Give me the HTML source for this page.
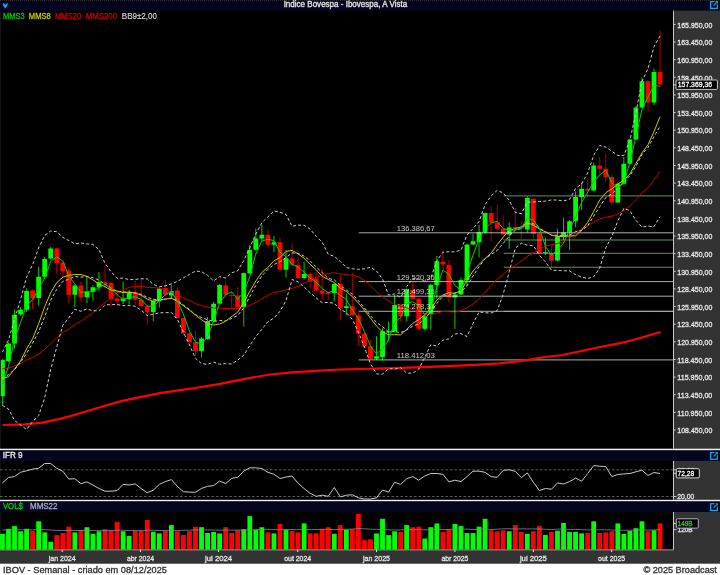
<!DOCTYPE html>
<html lang="pt-BR"><head><meta charset="utf-8"><title>IBOV - Semanal</title>
<style>html,body{margin:0;padding:0;background:#000;}svg{display:block;}</style></head>
<body>
<svg width="720" height="575" viewBox="0 0 720 575" font-family="'Liberation Sans', sans-serif" shape-rendering="auto">
<rect x="0" y="0" width="720" height="575" fill="#000"/>
<rect x="0" y="0" width="720" height="10.6" fill="#050520"/>
<rect x="673.5" y="10.6" width="46.5" height="553" fill="#333333"/>
<rect x="0" y="549.6" width="720" height="14.2" fill="#333333"/>
<rect x="0" y="563.7" width="720" height="11.3" fill="#fff"/>
<clipPath id="cm"><rect x="0" y="10.6" width="673.5" height="438.1"/></clipPath>
<g clip-path="url(#cm)">
<line x1="2.45" y1="359.0" x2="2.45" y2="405.0" stroke="#00d000" stroke-width="1"/>
<rect x="0.05" y="360.0" width="4.8" height="36.25" fill="#00ff00"/>
<line x1="8.48" y1="342.5" x2="8.48" y2="362.0" stroke="#00d000" stroke-width="1"/>
<rect x="6.08" y="343.5" width="4.8" height="17.50" fill="#00ff00"/>
<line x1="14.52" y1="309.75" x2="14.52" y2="348.5" stroke="#00d000" stroke-width="1"/>
<rect x="12.12" y="314.75" width="4.8" height="28.75" fill="#00ff00"/>
<line x1="20.55" y1="307.0" x2="20.55" y2="316.0" stroke="#00d000" stroke-width="1"/>
<rect x="18.15" y="309.75" width="4.8" height="4.50" fill="#00ff00"/>
<line x1="26.58" y1="288.5" x2="26.58" y2="312.0" stroke="#00d000" stroke-width="1"/>
<rect x="24.18" y="291.0" width="4.8" height="18.75" fill="#00ff00"/>
<line x1="32.62" y1="289.5" x2="32.62" y2="309.0" stroke="#b00000" stroke-width="1"/>
<rect x="30.22" y="290.5" width="4.8" height="8.00" fill="#ff0000"/>
<line x1="38.65" y1="266.75" x2="38.65" y2="305.5" stroke="#00d000" stroke-width="1"/>
<rect x="36.25" y="276.75" width="4.8" height="21.25" fill="#00ff00"/>
<line x1="44.68" y1="257.0" x2="44.68" y2="277.5" stroke="#00d000" stroke-width="1"/>
<rect x="42.28" y="259.0" width="4.8" height="17.75" fill="#00ff00"/>
<line x1="50.71" y1="247.0" x2="50.71" y2="260.0" stroke="#00d000" stroke-width="1"/>
<rect x="48.31" y="248.5" width="4.8" height="10.00" fill="#00ff00"/>
<line x1="56.75" y1="248.0" x2="56.75" y2="273.75" stroke="#b00000" stroke-width="1"/>
<rect x="54.35" y="248.4" width="4.8" height="14.80" fill="#ff0000"/>
<line x1="62.78" y1="262.0" x2="62.78" y2="277.5" stroke="#b00000" stroke-width="1"/>
<rect x="60.38" y="262.7" width="4.8" height="8.30" fill="#ff0000"/>
<line x1="68.81" y1="267.0" x2="68.81" y2="303.0" stroke="#b00000" stroke-width="1"/>
<rect x="66.41" y="270.5" width="4.8" height="24.25" fill="#ff0000"/>
<line x1="74.85" y1="284.5" x2="74.85" y2="307.0" stroke="#00d000" stroke-width="1"/>
<rect x="72.45" y="285.5" width="4.8" height="9.25" fill="#00ff00"/>
<line x1="80.88" y1="281.5" x2="80.88" y2="301.5" stroke="#b00000" stroke-width="1"/>
<rect x="78.48" y="285.5" width="4.8" height="11.75" fill="#ff0000"/>
<line x1="86.91" y1="276.0" x2="86.91" y2="303.0" stroke="#00d000" stroke-width="1"/>
<rect x="84.51" y="291.75" width="4.8" height="5.50" fill="#00ff00"/>
<line x1="92.95" y1="285.5" x2="92.95" y2="300.5" stroke="#00d000" stroke-width="1"/>
<rect x="90.55" y="287.25" width="4.8" height="4.50" fill="#00ff00"/>
<line x1="98.98" y1="272.25" x2="98.98" y2="291.0" stroke="#00d000" stroke-width="1"/>
<rect x="96.58" y="282.25" width="4.8" height="5.00" fill="#00ff00"/>
<line x1="105.01" y1="266.0" x2="105.01" y2="288.5" stroke="#b00000" stroke-width="1"/>
<rect x="102.61" y="282.25" width="4.8" height="1.75" fill="#ff0000"/>
<line x1="111.04" y1="281.5" x2="111.04" y2="307.0" stroke="#b00000" stroke-width="1"/>
<rect x="108.64" y="283.0" width="4.8" height="16.00" fill="#ff0000"/>
<line x1="117.08" y1="291.0" x2="117.08" y2="306.0" stroke="#b00000" stroke-width="1"/>
<rect x="114.68" y="298.5" width="4.8" height="2.50" fill="#ff0000"/>
<line x1="123.11" y1="281.5" x2="123.11" y2="304.0" stroke="#00d000" stroke-width="1"/>
<rect x="120.71" y="298.5" width="4.8" height="2.50" fill="#00ff00"/>
<line x1="129.14" y1="290.0" x2="129.14" y2="304.75" stroke="#00d000" stroke-width="1"/>
<rect x="126.74" y="292.25" width="4.8" height="6.75" fill="#00ff00"/>
<line x1="135.18" y1="280.5" x2="135.18" y2="304.75" stroke="#b00000" stroke-width="1"/>
<rect x="132.78" y="292.25" width="4.8" height="7.50" fill="#ff0000"/>
<line x1="141.21" y1="278.5" x2="141.21" y2="308.5" stroke="#b00000" stroke-width="1"/>
<rect x="138.81" y="299.75" width="4.8" height="6.25" fill="#ff0000"/>
<line x1="147.24" y1="304.75" x2="147.24" y2="324.75" stroke="#b00000" stroke-width="1"/>
<rect x="144.84" y="306.0" width="4.8" height="6.25" fill="#ff0000"/>
<line x1="153.28" y1="299.75" x2="153.28" y2="321.0" stroke="#00d000" stroke-width="1"/>
<rect x="150.88" y="301.0" width="4.8" height="11.25" fill="#00ff00"/>
<line x1="159.31" y1="287.5" x2="159.31" y2="307.5" stroke="#00d000" stroke-width="1"/>
<rect x="156.91" y="288.6" width="4.8" height="12.70" fill="#00ff00"/>
<line x1="165.34" y1="279.75" x2="165.34" y2="296.0" stroke="#b00000" stroke-width="1"/>
<rect x="162.94" y="288.0" width="4.8" height="6.75" fill="#ff0000"/>
<line x1="171.37" y1="284.75" x2="171.37" y2="298.5" stroke="#00d000" stroke-width="1"/>
<rect x="168.97" y="291.0" width="4.8" height="4.50" fill="#00ff00"/>
<line x1="177.41" y1="287.25" x2="177.41" y2="318.5" stroke="#b00000" stroke-width="1"/>
<rect x="175.01" y="290.5" width="4.8" height="27.50" fill="#ff0000"/>
<line x1="183.44" y1="317.5" x2="183.44" y2="334.75" stroke="#b00000" stroke-width="1"/>
<rect x="181.04" y="318.0" width="4.8" height="15.50" fill="#ff0000"/>
<line x1="189.47" y1="333.0" x2="189.47" y2="343.5" stroke="#b00000" stroke-width="1"/>
<rect x="187.07" y="333.5" width="4.8" height="8.75" fill="#ff0000"/>
<line x1="195.51" y1="331.0" x2="195.51" y2="356.0" stroke="#b00000" stroke-width="1"/>
<rect x="193.11" y="342.25" width="4.8" height="8.75" fill="#ff0000"/>
<line x1="201.54" y1="337.25" x2="201.54" y2="357.25" stroke="#00d000" stroke-width="1"/>
<rect x="199.14" y="338.5" width="4.8" height="12.50" fill="#00ff00"/>
<line x1="207.57" y1="317.0" x2="207.57" y2="339.75" stroke="#00d000" stroke-width="1"/>
<rect x="205.17" y="321.0" width="4.8" height="18.00" fill="#00ff00"/>
<line x1="213.61" y1="301.6" x2="213.61" y2="322.25" stroke="#00d000" stroke-width="1"/>
<rect x="211.21" y="303.7" width="4.8" height="17.30" fill="#00ff00"/>
<line x1="219.64" y1="284.0" x2="219.64" y2="304.75" stroke="#00d000" stroke-width="1"/>
<rect x="217.24" y="285.0" width="4.8" height="18.70" fill="#00ff00"/>
<line x1="225.67" y1="280.8" x2="225.67" y2="296.0" stroke="#b00000" stroke-width="1"/>
<rect x="223.27" y="285.4" width="4.8" height="9.30" fill="#ff0000"/>
<line x1="231.70" y1="291.9" x2="231.70" y2="309.3" stroke="#b00000" stroke-width="1"/>
<rect x="229.30" y="295.2" width="4.8" height="0.90" fill="#ff0000"/>
<line x1="237.74" y1="287.0" x2="237.74" y2="308.0" stroke="#b00000" stroke-width="1"/>
<rect x="235.34" y="295.4" width="4.8" height="11.80" fill="#ff0000"/>
<line x1="243.77" y1="272.5" x2="243.77" y2="326.7" stroke="#00d000" stroke-width="1"/>
<rect x="241.37" y="273.1" width="4.8" height="34.10" fill="#00ff00"/>
<line x1="249.80" y1="244.75" x2="249.80" y2="274.0" stroke="#00d000" stroke-width="1"/>
<rect x="247.40" y="249.75" width="4.8" height="23.55" fill="#00ff00"/>
<line x1="255.84" y1="228.5" x2="255.84" y2="250.5" stroke="#00d000" stroke-width="1"/>
<rect x="253.44" y="238.5" width="4.8" height="11.25" fill="#00ff00"/>
<line x1="261.87" y1="224.75" x2="261.87" y2="241.0" stroke="#00d000" stroke-width="1"/>
<rect x="259.47" y="234.75" width="4.8" height="3.75" fill="#00ff00"/>
<line x1="267.90" y1="229.75" x2="267.90" y2="247.0" stroke="#b00000" stroke-width="1"/>
<rect x="265.50" y="234.75" width="4.8" height="10.00" fill="#ff0000"/>
<line x1="273.94" y1="236.0" x2="273.94" y2="252.0" stroke="#00d000" stroke-width="1"/>
<rect x="271.54" y="242.25" width="4.8" height="2.50" fill="#00ff00"/>
<line x1="279.97" y1="237.25" x2="279.97" y2="272.0" stroke="#b00000" stroke-width="1"/>
<rect x="277.57" y="242.25" width="4.8" height="27.50" fill="#ff0000"/>
<line x1="286.00" y1="250.4" x2="286.00" y2="277.5" stroke="#00d000" stroke-width="1"/>
<rect x="283.60" y="258.5" width="4.8" height="11.25" fill="#00ff00"/>
<line x1="292.03" y1="243.5" x2="292.03" y2="266.0" stroke="#b00000" stroke-width="1"/>
<rect x="289.63" y="258.5" width="4.8" height="6.25" fill="#ff0000"/>
<line x1="298.07" y1="257.0" x2="298.07" y2="279.0" stroke="#b00000" stroke-width="1"/>
<rect x="295.67" y="264.75" width="4.8" height="13.25" fill="#ff0000"/>
<line x1="304.10" y1="262.0" x2="304.10" y2="279.75" stroke="#00d000" stroke-width="1"/>
<rect x="301.70" y="274.0" width="4.8" height="4.00" fill="#00ff00"/>
<line x1="310.13" y1="272.25" x2="310.13" y2="288.5" stroke="#b00000" stroke-width="1"/>
<rect x="307.73" y="274.0" width="4.8" height="7.50" fill="#ff0000"/>
<line x1="316.17" y1="271.3" x2="316.17" y2="291.3" stroke="#b00000" stroke-width="1"/>
<rect x="313.77" y="278.6" width="4.8" height="12.10" fill="#ff0000"/>
<line x1="322.20" y1="268.5" x2="322.20" y2="300.0" stroke="#b00000" stroke-width="1"/>
<rect x="319.80" y="290.5" width="4.8" height="3.00" fill="#ff0000"/>
<line x1="328.23" y1="291.0" x2="328.23" y2="300.0" stroke="#b00000" stroke-width="1"/>
<rect x="325.83" y="292.25" width="4.8" height="1.75" fill="#ff0000"/>
<line x1="334.26" y1="283.0" x2="334.26" y2="301.0" stroke="#00d000" stroke-width="1"/>
<rect x="331.87" y="284.0" width="4.8" height="9.00" fill="#00ff00"/>
<line x1="340.30" y1="274.75" x2="340.30" y2="320.5" stroke="#b00000" stroke-width="1"/>
<rect x="337.90" y="284.0" width="4.8" height="24.00" fill="#ff0000"/>
<line x1="346.33" y1="293.75" x2="346.33" y2="315.0" stroke="#00d000" stroke-width="1"/>
<rect x="343.93" y="306.25" width="4.8" height="1.75" fill="#00ff00"/>
<line x1="352.36" y1="272.5" x2="352.36" y2="316.25" stroke="#b00000" stroke-width="1"/>
<rect x="349.96" y="306.25" width="4.8" height="8.75" fill="#ff0000"/>
<line x1="358.40" y1="312.0" x2="358.40" y2="345.2" stroke="#b00000" stroke-width="1"/>
<rect x="356.00" y="315.5" width="4.8" height="18.10" fill="#ff0000"/>
<line x1="364.43" y1="332.5" x2="364.43" y2="347.0" stroke="#b00000" stroke-width="1"/>
<rect x="362.03" y="333.75" width="4.8" height="12.50" fill="#ff0000"/>
<line x1="370.46" y1="340.0" x2="370.46" y2="359.5" stroke="#b00000" stroke-width="1"/>
<rect x="368.06" y="346.25" width="4.8" height="12.50" fill="#ff0000"/>
<line x1="376.50" y1="336.25" x2="376.50" y2="360.0" stroke="#00d000" stroke-width="1"/>
<rect x="374.10" y="356.25" width="4.8" height="2.50" fill="#00ff00"/>
<line x1="382.53" y1="327.8" x2="382.53" y2="360.5" stroke="#00d000" stroke-width="1"/>
<rect x="380.13" y="331.3" width="4.8" height="25.70" fill="#00ff00"/>
<line x1="388.56" y1="321.25" x2="388.56" y2="341.25" stroke="#00d000" stroke-width="1"/>
<rect x="386.16" y="331.25" width="4.8" height="1.25" fill="#00ff00"/>
<line x1="394.60" y1="295.0" x2="394.60" y2="332.5" stroke="#00d000" stroke-width="1"/>
<rect x="392.20" y="305.0" width="4.8" height="26.25" fill="#00ff00"/>
<line x1="400.63" y1="303.75" x2="400.63" y2="321.25" stroke="#b00000" stroke-width="1"/>
<rect x="398.23" y="305.0" width="4.8" height="11.25" fill="#ff0000"/>
<line x1="406.66" y1="288.75" x2="406.66" y2="321.0" stroke="#00d000" stroke-width="1"/>
<rect x="404.26" y="290.0" width="4.8" height="26.25" fill="#00ff00"/>
<line x1="412.69" y1="281.25" x2="412.69" y2="299.5" stroke="#b00000" stroke-width="1"/>
<rect x="410.29" y="290.0" width="4.8" height="8.75" fill="#ff0000"/>
<line x1="418.73" y1="298.0" x2="418.73" y2="329.5" stroke="#b00000" stroke-width="1"/>
<rect x="416.33" y="298.75" width="4.8" height="30.00" fill="#ff0000"/>
<line x1="424.76" y1="313.75" x2="424.76" y2="330.5" stroke="#00d000" stroke-width="1"/>
<rect x="422.36" y="316.25" width="4.8" height="12.50" fill="#00ff00"/>
<line x1="430.79" y1="283.75" x2="430.79" y2="330.0" stroke="#00d000" stroke-width="1"/>
<rect x="428.39" y="284.8" width="4.8" height="29.70" fill="#00ff00"/>
<line x1="436.83" y1="256.0" x2="436.83" y2="298.75" stroke="#00d000" stroke-width="1"/>
<rect x="434.43" y="261.25" width="4.8" height="23.75" fill="#00ff00"/>
<line x1="442.86" y1="250.6" x2="442.86" y2="270.6" stroke="#b00000" stroke-width="1"/>
<rect x="440.46" y="261.8" width="4.8" height="2.50" fill="#ff0000"/>
<line x1="448.89" y1="260.0" x2="448.89" y2="302.5" stroke="#b00000" stroke-width="1"/>
<rect x="446.49" y="265.0" width="4.8" height="32.50" fill="#ff0000"/>
<line x1="454.93" y1="293.75" x2="454.93" y2="328.75" stroke="#00d000" stroke-width="1"/>
<rect x="452.53" y="294.5" width="4.8" height="3.00" fill="#00ff00"/>
<line x1="460.96" y1="277.5" x2="460.96" y2="295.0" stroke="#00d000" stroke-width="1"/>
<rect x="458.56" y="280.0" width="4.8" height="14.50" fill="#00ff00"/>
<line x1="466.99" y1="243.75" x2="466.99" y2="286.0" stroke="#00d000" stroke-width="1"/>
<rect x="464.59" y="244.5" width="4.8" height="35.50" fill="#00ff00"/>
<line x1="473.02" y1="233.75" x2="473.02" y2="245.0" stroke="#00d000" stroke-width="1"/>
<rect x="470.62" y="241.25" width="4.8" height="3.25" fill="#00ff00"/>
<line x1="479.06" y1="225.0" x2="479.06" y2="257.5" stroke="#00d000" stroke-width="1"/>
<rect x="476.66" y="232.25" width="4.8" height="10.00" fill="#00ff00"/>
<line x1="485.09" y1="212.5" x2="485.09" y2="233.75" stroke="#00d000" stroke-width="1"/>
<rect x="482.69" y="213.0" width="4.8" height="19.50" fill="#00ff00"/>
<line x1="491.12" y1="206.25" x2="491.12" y2="241.25" stroke="#b00000" stroke-width="1"/>
<rect x="488.72" y="213.0" width="4.8" height="9.50" fill="#ff0000"/>
<line x1="497.16" y1="205.0" x2="497.16" y2="230.0" stroke="#b00000" stroke-width="1"/>
<rect x="494.76" y="222.5" width="4.8" height="6.25" fill="#ff0000"/>
<line x1="503.19" y1="215.5" x2="503.19" y2="235.5" stroke="#b00000" stroke-width="1"/>
<rect x="500.79" y="228.75" width="4.8" height="5.75" fill="#ff0000"/>
<line x1="509.22" y1="222.5" x2="509.22" y2="248.75" stroke="#00d000" stroke-width="1"/>
<rect x="506.82" y="227.5" width="4.8" height="7.00" fill="#00ff00"/>
<line x1="515.25" y1="208.0" x2="515.25" y2="229.5" stroke="#b00000" stroke-width="1"/>
<rect x="512.86" y="227.0" width="4.8" height="1.00" fill="#ff0000"/>
<line x1="521.29" y1="221.0" x2="521.29" y2="238.75" stroke="#b00000" stroke-width="1"/>
<rect x="518.89" y="227.5" width="4.8" height="1.00" fill="#ff0000"/>
<line x1="527.32" y1="196.25" x2="527.32" y2="232.5" stroke="#00d000" stroke-width="1"/>
<rect x="524.92" y="198.0" width="4.8" height="31.50" fill="#00ff00"/>
<line x1="533.35" y1="198.0" x2="533.35" y2="238.75" stroke="#b00000" stroke-width="1"/>
<rect x="530.95" y="198.75" width="4.8" height="35.00" fill="#ff0000"/>
<line x1="539.39" y1="232.5" x2="539.39" y2="253.75" stroke="#b00000" stroke-width="1"/>
<rect x="536.99" y="233.75" width="4.8" height="19.25" fill="#ff0000"/>
<line x1="545.42" y1="237.5" x2="545.42" y2="255.0" stroke="#00d000" stroke-width="1"/>
<rect x="543.02" y="252.2" width="4.8" height="0.90" fill="#00ff00"/>
<line x1="551.45" y1="246.25" x2="551.45" y2="267.0" stroke="#b00000" stroke-width="1"/>
<rect x="549.05" y="253.0" width="4.8" height="7.50" fill="#ff0000"/>
<line x1="557.49" y1="228.75" x2="557.49" y2="261.25" stroke="#00d000" stroke-width="1"/>
<rect x="555.09" y="236.25" width="4.8" height="24.25" fill="#00ff00"/>
<line x1="563.52" y1="217.5" x2="563.52" y2="240.0" stroke="#00d000" stroke-width="1"/>
<rect x="561.12" y="232.5" width="4.8" height="3.75" fill="#00ff00"/>
<line x1="569.55" y1="220.0" x2="569.55" y2="250.0" stroke="#00d000" stroke-width="1"/>
<rect x="567.15" y="221.25" width="4.8" height="11.25" fill="#00ff00"/>
<line x1="575.58" y1="191.25" x2="575.58" y2="227.5" stroke="#00d000" stroke-width="1"/>
<rect x="573.18" y="197.0" width="4.8" height="24.25" fill="#00ff00"/>
<line x1="581.62" y1="182.5" x2="581.62" y2="210.0" stroke="#00d000" stroke-width="1"/>
<rect x="579.22" y="188.75" width="4.8" height="8.25" fill="#00ff00"/>
<line x1="587.65" y1="180.0" x2="587.65" y2="197.0" stroke="#b00000" stroke-width="1"/>
<rect x="585.25" y="188.75" width="4.8" height="1.75" fill="#ff0000"/>
<line x1="593.68" y1="162.5" x2="593.68" y2="191.25" stroke="#00d000" stroke-width="1"/>
<rect x="591.28" y="165.5" width="4.8" height="25.00" fill="#00ff00"/>
<line x1="599.72" y1="157.0" x2="599.72" y2="175.0" stroke="#b00000" stroke-width="1"/>
<rect x="597.32" y="165.5" width="4.8" height="3.25" fill="#ff0000"/>
<line x1="605.75" y1="153.75" x2="605.75" y2="182.0" stroke="#b00000" stroke-width="1"/>
<rect x="603.35" y="168.75" width="4.8" height="8.25" fill="#ff0000"/>
<line x1="611.78" y1="175.0" x2="611.78" y2="205.5" stroke="#b00000" stroke-width="1"/>
<rect x="609.38" y="177.0" width="4.8" height="25.50" fill="#ff0000"/>
<line x1="617.82" y1="182.5" x2="617.82" y2="203.0" stroke="#00d000" stroke-width="1"/>
<rect x="615.42" y="183.75" width="4.8" height="18.75" fill="#00ff00"/>
<line x1="623.85" y1="157.0" x2="623.85" y2="184.5" stroke="#00d000" stroke-width="1"/>
<rect x="621.45" y="163.75" width="4.8" height="20.00" fill="#00ff00"/>
<line x1="629.88" y1="138.75" x2="629.88" y2="164.5" stroke="#00d000" stroke-width="1"/>
<rect x="627.48" y="139.5" width="4.8" height="24.25" fill="#00ff00"/>
<line x1="635.91" y1="106.25" x2="635.91" y2="140.0" stroke="#00d000" stroke-width="1"/>
<rect x="633.51" y="107.5" width="4.8" height="32.00" fill="#00ff00"/>
<line x1="641.95" y1="77.5" x2="641.95" y2="108.0" stroke="#00d000" stroke-width="1"/>
<rect x="639.55" y="81.25" width="4.8" height="26.25" fill="#00ff00"/>
<line x1="647.98" y1="80.0" x2="647.98" y2="111.25" stroke="#b00000" stroke-width="1"/>
<rect x="645.58" y="81.25" width="4.8" height="21.25" fill="#ff0000"/>
<line x1="654.01" y1="68.75" x2="654.01" y2="105.0" stroke="#00d000" stroke-width="1"/>
<rect x="651.61" y="72.0" width="4.8" height="30.50" fill="#00ff00"/>
<line x1="660.05" y1="30.5" x2="660.05" y2="85.5" stroke="#b00000" stroke-width="1"/>
<rect x="657.65" y="72.0" width="4.8" height="12.50" fill="#ff0000"/>
<line x1="358.7" y1="232.8" x2="673.5" y2="232.8" stroke="#ffffff" stroke-opacity="0.68" stroke-width="1"/>
<line x1="358.7" y1="281.6" x2="673.5" y2="281.6" stroke="#ffffff" stroke-opacity="0.68" stroke-width="1"/>
<line x1="358.7" y1="296.2" x2="673.5" y2="296.2" stroke="#ffffff" stroke-opacity="0.68" stroke-width="1"/>
<line x1="358.7" y1="311.3" x2="673.5" y2="311.3" stroke="#ffffff" stroke-opacity="0.68" stroke-width="1"/>
<line x1="358.7" y1="359.9" x2="673.5" y2="359.9" stroke="#ffffff" stroke-opacity="0.68" stroke-width="1"/>
<line x1="503.7" y1="195.9" x2="673.5" y2="195.9" stroke="#80e080" stroke-opacity="0.68" stroke-width="1"/>
<line x1="503.7" y1="240.0" x2="673.5" y2="240.0" stroke="#80e080" stroke-opacity="0.68" stroke-width="1"/>
<line x1="503.7" y1="253.3" x2="673.5" y2="253.3" stroke="#80e080" stroke-opacity="0.68" stroke-width="1"/>
<line x1="503.7" y1="267.25" x2="673.5" y2="267.25" stroke="#80e080" stroke-opacity="0.68" stroke-width="1"/>
<line x1="503.7" y1="311.3" x2="673.5" y2="311.3" stroke="#80e080" stroke-opacity="0.68" stroke-width="1"/>
<g opacity="0.78"><text x="396.7" y="230.9" font-size="8" fill="#ffffff" text-anchor="start" font-weight="normal" textLength="38.1" lengthAdjust="spacingAndGlyphs">136.386,67</text></g>
<g opacity="0.78"><text x="396.7" y="279.70000000000005" font-size="8" fill="#ffffff" text-anchor="start" font-weight="normal" textLength="38.1" lengthAdjust="spacingAndGlyphs">129.520,36</text></g>
<g opacity="0.78"><text x="396.7" y="294.3" font-size="8" fill="#ffffff" text-anchor="start" font-weight="normal" textLength="38.1" lengthAdjust="spacingAndGlyphs">127.499,35</text></g>
<g opacity="0.78"><text x="396.7" y="309.40000000000003" font-size="8" fill="#ffffff" text-anchor="start" font-weight="normal" textLength="38.1" lengthAdjust="spacingAndGlyphs">125.278,34</text></g>
<g opacity="0.78"><text x="396.7" y="358.0" font-size="8" fill="#ffffff" text-anchor="start" font-weight="normal" textLength="38.1" lengthAdjust="spacingAndGlyphs">118.412,03</text></g>
<polyline points="2.5,425.0 25.0,424.3 42.5,422.6 60.0,418.9 75.0,414.7 100.0,407.2 120.0,401.4 140.0,397.1 160.0,393.1 180.0,390.1 195.0,388.0 220.0,383.8 245.0,378.8 270.0,374.5 295.0,372.2 320.0,370.6 340.0,369.5 385.0,368.3 430.0,366.9 475.0,364.9 500.0,363.3 525.0,360.4 545.0,357.0 562.5,355.0 580.0,351.2 600.0,347.0 620.0,343.2 635.0,339.5 650.0,335.0 660.5,332.0" fill="none" stroke="#ff0000" stroke-width="2.2" stroke-linejoin="round"/>
<polyline points="2.4,368.9 8.5,368.3 14.5,365.9 20.5,363.6 26.6,359.9 32.6,357.5 38.6,354.0 44.7,349.3 50.7,343.7 56.7,337.8 62.8,332.4 68.8,329.0 74.8,324.2 80.9,321.2 86.9,316.9 92.9,312.7 99.0,307.3 105.0,302.6 111.0,297.7 117.1,292.9 123.1,289.9 129.1,287.3 135.2,286.5 141.2,286.4 147.2,287.4 153.3,287.5 159.3,288.1 165.3,289.9 171.4,292.1 177.4,294.8 183.4,297.9 189.5,300.3 195.5,303.6 201.5,305.6 207.6,307.1 213.6,307.9 219.6,308.1 225.7,308.6 231.7,308.4 237.7,308.7 243.8,307.5 249.8,305.3 255.8,302.3 261.9,298.7 267.9,295.3 273.9,292.4 280.0,291.5 286.0,289.7 292.0,288.3 298.1,286.3 304.1,283.4 310.1,280.3 316.2,277.3 322.2,275.1 328.2,273.7 334.3,272.7 340.3,273.9 346.3,274.5 352.4,275.4 358.4,276.7 364.4,280.4 370.5,285.8 376.5,291.7 382.5,296.6 388.6,300.9 394.6,304.0 400.6,306.3 406.7,307.9 412.7,309.6 418.7,312.2 424.8,314.3 430.8,314.4 436.8,313.0 442.9,311.5 448.9,311.7 454.9,312.2 461.0,310.8 467.0,307.7 473.0,304.0 479.1,299.0 485.1,292.3 491.1,285.5 497.2,279.1 503.2,274.3 509.2,269.1 515.3,265.2 521.3,260.8 527.3,256.2 533.4,253.0 539.4,249.2 545.4,246.0 551.5,244.8 557.5,243.5 563.5,241.9 569.6,238.1 575.6,233.3 581.6,228.7 587.7,226.0 593.7,222.2 599.7,219.0 605.8,217.2 611.8,216.2 617.8,214.0 623.8,210.4 629.9,206.0 635.9,200.0 641.9,192.7 648.0,187.9 654.0,179.8 660.0,171.4" fill="none" stroke="#c80000" stroke-width="1" />
<polyline points="2.4,352.2 8.5,340.1 14.5,319.3 20.5,299.8 26.6,277.1 32.6,264.8 38.6,248.0 44.7,235.4 50.7,231.0 56.7,231.7 62.8,237.4 68.8,240.5 74.8,243.8 80.9,243.0 86.9,243.9 92.9,244.4 99.0,249.6 105.0,263.4 111.0,271.6 117.1,278.3 123.1,278.1 129.1,279.6 135.2,279.4 141.2,278.7 147.2,278.9 153.3,284.4 159.3,286.8 165.3,285.9 171.4,283.9 177.4,281.4 183.4,277.9 189.5,274.4 195.5,271.1 201.5,271.6 207.6,275.4 213.6,280.9 219.6,276.6 225.7,278.1 231.7,272.8 237.7,270.8 243.8,260.5 249.8,247.6 255.8,234.2 261.9,222.6 267.9,216.9 273.9,211.0 280.0,212.3 286.0,214.4 292.0,226.3 298.1,225.1 304.1,225.2 310.1,229.1 316.2,236.3 322.2,242.3 328.2,254.2 334.3,256.4 340.3,261.3 346.3,267.6 352.4,268.7 358.4,269.4 364.4,268.8 370.5,267.3 376.5,271.0 382.5,279.1 388.6,295.1 394.6,293.9 400.6,297.5 406.7,286.6 412.7,278.7 418.7,278.9 424.8,281.3 430.8,278.0 436.8,261.0 442.9,252.2 448.9,251.7 454.9,251.9 461.0,250.0 467.0,235.0 473.0,228.6 479.1,221.5 485.1,204.7 491.1,195.9 497.2,190.3 503.2,193.0 509.2,200.2 515.3,212.4 521.3,213.7 527.3,202.1 533.4,202.0 539.4,201.4 545.4,201.2 551.5,199.9 557.5,200.1 563.5,201.0 569.6,199.3 575.6,188.5 581.6,184.0 587.7,173.0 593.7,155.3 599.7,145.5 605.8,147.2 611.8,151.1 617.8,155.5 623.8,155.5 629.9,140.4 635.9,112.8 641.9,81.7 648.0,68.5 654.0,46.7 660.0,36.1" fill="none" stroke="#cccccc" stroke-width="1" stroke-dasharray="3 2.2"/>
<polyline points="2.4,378.8 8.5,374.6 14.5,369.8 20.5,362.4 26.6,353.3 32.6,343.2 38.6,331.9 44.7,316.6 50.7,300.2 56.7,289.4 62.8,281.4 68.8,279.2 74.8,276.5 80.9,277.2 86.9,276.4 92.9,277.6 99.0,280.2 105.0,284.1 111.0,288.1 117.1,291.4 123.1,291.8 129.1,292.6 135.2,292.9 141.2,294.4 147.2,297.2 153.3,299.3 159.3,299.8 165.3,299.3 171.4,298.2 177.4,300.4 183.4,305.0 189.5,309.7 195.5,314.7 201.5,317.6 207.6,319.8 213.6,321.5 219.6,320.4 225.7,320.9 231.7,318.4 237.7,315.5 243.8,307.8 249.8,296.5 255.8,285.4 261.9,275.8 267.9,269.3 273.9,264.5 280.0,261.8 286.0,257.6 292.0,252.9 298.1,253.4 304.1,256.1 310.1,260.9 316.2,267.1 322.2,272.5 328.2,278.3 334.3,279.9 340.3,285.4 346.3,290.0 352.4,294.1 358.4,300.7 364.4,307.9 370.5,315.5 376.5,322.5 382.5,326.6 388.6,331.9 394.6,331.5 400.6,332.6 406.7,329.9 412.7,326.0 418.7,324.0 424.8,319.3 430.8,311.4 436.8,303.6 442.9,296.1 448.9,295.3 454.9,292.9 461.0,291.8 467.0,285.8 473.0,276.0 479.1,266.7 485.1,258.7 491.1,254.4 497.2,250.5 503.2,243.5 509.2,236.0 515.3,230.2 521.3,228.5 527.3,223.7 533.4,223.8 539.4,228.3 545.4,231.6 551.5,235.1 557.5,235.3 563.5,235.9 569.6,235.1 575.6,231.6 581.6,230.6 587.7,225.8 593.7,216.1 599.7,206.8 605.8,197.5 611.8,193.8 617.8,188.3 623.8,181.9 629.9,175.6 635.9,166.5 641.9,154.4 648.0,147.4 654.0,136.6 660.0,126.4" fill="none" stroke="#cccccc" stroke-width="1" stroke-dasharray="3 2.2"/>
<polyline points="2.4,405.4 8.5,409.0 14.5,420.4 20.5,425.0 26.6,429.5 32.6,421.5 38.6,415.8 44.7,397.7 50.7,369.4 56.7,347.2 62.8,325.3 68.8,317.8 74.8,309.2 80.9,311.3 86.9,308.9 92.9,310.8 99.0,310.7 105.0,304.9 111.0,304.6 117.1,304.5 123.1,305.6 129.1,305.6 135.2,306.3 141.2,310.2 147.2,315.5 153.3,314.3 159.3,312.8 165.3,312.7 171.4,312.5 177.4,319.4 183.4,332.1 189.5,345.0 195.5,358.3 201.5,363.6 207.6,364.3 213.6,362.1 219.6,364.2 225.7,363.6 231.7,364.0 237.7,360.1 243.8,355.1 249.8,345.5 255.8,336.6 261.9,329.1 267.9,321.7 273.9,318.1 280.0,311.2 286.0,300.8 292.0,279.5 298.1,281.8 304.1,287.1 310.1,292.7 316.2,297.9 322.2,302.8 328.2,302.4 334.3,303.4 340.3,309.5 346.3,312.4 352.4,319.5 358.4,332.1 364.4,347.1 370.5,363.7 376.5,373.9 382.5,374.1 388.6,368.6 394.6,369.2 400.6,367.7 406.7,373.1 412.7,373.2 418.7,369.2 424.8,357.3 430.8,344.7 436.8,346.1 442.9,340.1 448.9,338.9 454.9,333.9 461.0,333.6 467.0,336.5 473.0,323.5 479.1,311.9 485.1,312.8 491.1,313.0 497.2,310.6 503.2,294.0 509.2,271.9 515.3,248.1 521.3,243.2 527.3,245.2 533.4,245.7 539.4,255.2 545.4,261.9 551.5,270.3 557.5,270.5 563.5,270.7 569.6,270.9 575.6,274.7 581.6,277.1 587.7,278.5 593.7,276.8 599.7,268.1 605.8,247.8 611.8,236.4 617.8,221.1 623.8,208.4 629.9,210.7 635.9,220.3 641.9,227.0 648.0,226.3 654.0,226.6 660.0,216.6" fill="none" stroke="#cccccc" stroke-width="1" stroke-dasharray="3 2.2"/>
<polyline points="2.4,378.4 8.5,376.7 14.5,369.0 20.5,361.1 26.6,348.8 32.6,338.8 38.6,323.8 44.7,306.7 50.7,292.7 56.7,282.7 62.8,277.2 68.8,275.3 74.8,274.6 80.9,274.5 86.9,276.4 92.9,279.9 99.0,284.1 105.0,286.7 111.0,290.2 117.1,291.0 123.1,292.6 129.1,292.0 135.2,293.0 141.2,295.3 147.2,299.1 153.3,301.2 159.3,299.9 165.3,299.1 171.4,298.2 177.4,301.4 183.4,305.6 189.5,310.2 195.5,315.0 201.5,319.7 207.6,323.8 213.6,324.9 219.6,324.1 225.7,321.2 231.7,316.5 237.7,312.1 243.8,302.4 249.8,291.3 255.8,281.0 261.9,272.4 267.9,267.3 273.9,260.8 280.0,257.5 286.0,251.4 292.0,250.4 298.1,253.9 304.1,258.3 310.1,264.2 316.2,269.9 322.2,276.3 328.2,279.4 334.3,282.6 340.3,288.0 346.3,291.5 352.4,296.6 358.4,303.1 364.4,310.1 370.5,318.2 376.5,326.0 382.5,331.9 388.6,334.8 394.6,334.7 400.6,334.8 406.7,329.4 412.7,323.4 418.7,319.7 424.8,314.7 430.8,308.9 436.8,300.1 442.9,295.0 448.9,292.7 454.9,293.3 461.0,290.9 467.0,280.4 473.0,271.0 479.1,264.4 485.1,258.4 491.1,253.2 497.2,244.6 503.2,237.1 509.2,230.5 515.3,228.5 521.3,226.9 527.3,222.6 533.4,225.2 539.4,229.0 545.4,231.9 551.5,235.2 557.5,236.3 563.5,236.8 569.6,235.9 575.6,235.8 581.6,230.2 587.7,222.4 593.7,211.5 599.7,200.1 605.8,192.7 611.8,188.9 617.8,184.2 623.8,180.1 629.9,173.9 635.9,163.5 641.9,153.0 648.0,144.7 654.0,131.6 660.0,116.8" fill="none" stroke="#cccc00" stroke-width="1" />
<polyline points="2.4,384.2 8.5,366.4 14.5,339.4 20.5,322.7 26.6,305.2 32.6,299.8 38.6,288.8 44.7,278.1 50.7,261.4 56.7,256.9 62.8,260.9 68.8,276.3 74.8,283.8 80.9,292.5 86.9,291.5 92.9,292.1 99.0,287.1 105.0,284.5 111.0,288.4 117.1,294.7 123.1,299.5 129.1,297.2 135.2,296.8 141.2,299.3 147.2,306.0 153.3,306.4 159.3,300.6 165.3,294.8 171.4,291.4 177.4,301.2 183.4,314.2 189.5,331.2 195.5,342.2 201.5,343.9 207.6,336.8 213.6,321.1 219.6,303.2 225.7,294.5 231.7,291.9 237.7,299.3 243.8,292.1 249.8,276.7 255.8,253.8 261.9,241.0 267.9,239.3 273.9,240.6 280.0,252.2 286.0,256.8 292.0,264.3 298.1,267.1 304.1,272.2 310.1,277.8 316.2,282.1 322.2,288.6 328.2,292.7 334.3,290.5 340.3,295.3 346.3,299.4 352.4,309.8 358.4,318.3 364.4,331.6 370.5,346.2 376.5,353.8 382.5,348.8 388.6,339.6 394.6,322.5 400.6,317.5 406.7,303.8 412.7,301.7 418.7,305.8 424.8,314.6 430.8,309.9 436.8,287.4 442.9,270.1 448.9,274.3 454.9,285.4 461.0,290.7 467.0,273.0 473.0,255.2 479.1,239.3 485.1,228.8 491.1,222.6 497.2,221.4 503.2,228.6 509.2,230.2 515.3,230.0 521.3,228.0 527.3,218.2 533.4,220.1 539.4,228.2 545.4,246.3 551.5,255.2 557.5,249.7 563.5,243.1 569.6,230.0 575.6,216.9 581.6,202.3 587.7,192.1 593.7,181.6 599.7,174.9 605.8,170.4 611.8,182.8 617.8,187.8 623.8,183.3 629.9,162.3 635.9,136.9 641.9,109.4 648.0,97.1 654.0,85.2 660.0,86.3" fill="none" stroke="#00d000" stroke-width="1" />
</g>
<line x1="673.5" y1="10.6" x2="673.5" y2="448.7" stroke="#c8c8c8" stroke-width="1"/>
<line x1="673.5" y1="460.9" x2="673.5" y2="499.8" stroke="#c8c8c8" stroke-width="1"/>
<line x1="673.5" y1="512" x2="673.5" y2="549.9" stroke="#c8c8c8" stroke-width="1"/>
<line x1="673.5" y1="24.4" x2="675.7" y2="24.4" stroke="#c8c8c8" stroke-width="1"/>
<text x="677.3" y="27.6" font-size="7.8" fill="#e8e8e8" text-anchor="start" font-weight="normal" textLength="35" lengthAdjust="spacingAndGlyphs" stroke="#e8e8e8" stroke-width="0.3">165.950,00</text>
<line x1="673.5" y1="42.0" x2="675.7" y2="42.0" stroke="#c8c8c8" stroke-width="1"/>
<text x="677.3" y="45.2" font-size="7.8" fill="#e8e8e8" text-anchor="start" font-weight="normal" textLength="35" lengthAdjust="spacingAndGlyphs" stroke="#e8e8e8" stroke-width="0.3">163.450,00</text>
<line x1="673.5" y1="59.7" x2="675.7" y2="59.7" stroke="#c8c8c8" stroke-width="1"/>
<text x="677.3" y="62.9" font-size="7.8" fill="#e8e8e8" text-anchor="start" font-weight="normal" textLength="35" lengthAdjust="spacingAndGlyphs" stroke="#e8e8e8" stroke-width="0.3">160.950,00</text>
<line x1="673.5" y1="77.3" x2="675.7" y2="77.3" stroke="#c8c8c8" stroke-width="1"/>
<text x="677.3" y="80.5" font-size="7.8" fill="#e8e8e8" text-anchor="start" font-weight="normal" textLength="35" lengthAdjust="spacingAndGlyphs" stroke="#e8e8e8" stroke-width="0.3">158.450,00</text>
<line x1="673.5" y1="94.9" x2="675.7" y2="94.9" stroke="#c8c8c8" stroke-width="1"/>
<text x="677.3" y="98.1" font-size="7.8" fill="#e8e8e8" text-anchor="start" font-weight="normal" textLength="35" lengthAdjust="spacingAndGlyphs" stroke="#e8e8e8" stroke-width="0.3">155.950,00</text>
<line x1="673.5" y1="112.6" x2="675.7" y2="112.6" stroke="#c8c8c8" stroke-width="1"/>
<text x="677.3" y="115.8" font-size="7.8" fill="#e8e8e8" text-anchor="start" font-weight="normal" textLength="35" lengthAdjust="spacingAndGlyphs" stroke="#e8e8e8" stroke-width="0.3">153.450,00</text>
<line x1="673.5" y1="130.2" x2="675.7" y2="130.2" stroke="#c8c8c8" stroke-width="1"/>
<text x="677.3" y="133.4" font-size="7.8" fill="#e8e8e8" text-anchor="start" font-weight="normal" textLength="35" lengthAdjust="spacingAndGlyphs" stroke="#e8e8e8" stroke-width="0.3">150.950,00</text>
<line x1="673.5" y1="147.8" x2="675.7" y2="147.8" stroke="#c8c8c8" stroke-width="1"/>
<text x="677.3" y="151.0" font-size="7.8" fill="#e8e8e8" text-anchor="start" font-weight="normal" textLength="35" lengthAdjust="spacingAndGlyphs" stroke="#e8e8e8" stroke-width="0.3">148.450,00</text>
<line x1="673.5" y1="165.5" x2="675.7" y2="165.5" stroke="#c8c8c8" stroke-width="1"/>
<text x="677.3" y="168.7" font-size="7.8" fill="#e8e8e8" text-anchor="start" font-weight="normal" textLength="35" lengthAdjust="spacingAndGlyphs" stroke="#e8e8e8" stroke-width="0.3">145.950,00</text>
<line x1="673.5" y1="183.1" x2="675.7" y2="183.1" stroke="#c8c8c8" stroke-width="1"/>
<text x="677.3" y="186.3" font-size="7.8" fill="#e8e8e8" text-anchor="start" font-weight="normal" textLength="35" lengthAdjust="spacingAndGlyphs" stroke="#e8e8e8" stroke-width="0.3">143.450,00</text>
<line x1="673.5" y1="200.8" x2="675.7" y2="200.8" stroke="#c8c8c8" stroke-width="1"/>
<text x="677.3" y="204.0" font-size="7.8" fill="#e8e8e8" text-anchor="start" font-weight="normal" textLength="35" lengthAdjust="spacingAndGlyphs" stroke="#e8e8e8" stroke-width="0.3">140.950,00</text>
<line x1="673.5" y1="218.4" x2="675.7" y2="218.4" stroke="#c8c8c8" stroke-width="1"/>
<text x="677.3" y="221.6" font-size="7.8" fill="#e8e8e8" text-anchor="start" font-weight="normal" textLength="35" lengthAdjust="spacingAndGlyphs" stroke="#e8e8e8" stroke-width="0.3">138.450,00</text>
<line x1="673.5" y1="236.0" x2="675.7" y2="236.0" stroke="#c8c8c8" stroke-width="1"/>
<text x="677.3" y="239.2" font-size="7.8" fill="#e8e8e8" text-anchor="start" font-weight="normal" textLength="35" lengthAdjust="spacingAndGlyphs" stroke="#e8e8e8" stroke-width="0.3">135.950,00</text>
<line x1="673.5" y1="253.7" x2="675.7" y2="253.7" stroke="#c8c8c8" stroke-width="1"/>
<text x="677.3" y="256.9" font-size="7.8" fill="#e8e8e8" text-anchor="start" font-weight="normal" textLength="35" lengthAdjust="spacingAndGlyphs" stroke="#e8e8e8" stroke-width="0.3">133.450,00</text>
<line x1="673.5" y1="271.3" x2="675.7" y2="271.3" stroke="#c8c8c8" stroke-width="1"/>
<text x="677.3" y="274.5" font-size="7.8" fill="#e8e8e8" text-anchor="start" font-weight="normal" textLength="35" lengthAdjust="spacingAndGlyphs" stroke="#e8e8e8" stroke-width="0.3">130.950,00</text>
<line x1="673.5" y1="288.9" x2="675.7" y2="288.9" stroke="#c8c8c8" stroke-width="1"/>
<text x="677.3" y="292.1" font-size="7.8" fill="#e8e8e8" text-anchor="start" font-weight="normal" textLength="35" lengthAdjust="spacingAndGlyphs" stroke="#e8e8e8" stroke-width="0.3">128.450,00</text>
<line x1="673.5" y1="306.6" x2="675.7" y2="306.6" stroke="#c8c8c8" stroke-width="1"/>
<text x="677.3" y="309.8" font-size="7.8" fill="#e8e8e8" text-anchor="start" font-weight="normal" textLength="35" lengthAdjust="spacingAndGlyphs" stroke="#e8e8e8" stroke-width="0.3">125.950,00</text>
<line x1="673.5" y1="324.2" x2="675.7" y2="324.2" stroke="#c8c8c8" stroke-width="1"/>
<text x="677.3" y="327.4" font-size="7.8" fill="#e8e8e8" text-anchor="start" font-weight="normal" textLength="35" lengthAdjust="spacingAndGlyphs" stroke="#e8e8e8" stroke-width="0.3">123.450,00</text>
<line x1="673.5" y1="341.8" x2="675.7" y2="341.8" stroke="#c8c8c8" stroke-width="1"/>
<text x="677.3" y="345.0" font-size="7.8" fill="#e8e8e8" text-anchor="start" font-weight="normal" textLength="35" lengthAdjust="spacingAndGlyphs" stroke="#e8e8e8" stroke-width="0.3">120.950,00</text>
<line x1="673.5" y1="359.5" x2="675.7" y2="359.5" stroke="#c8c8c8" stroke-width="1"/>
<text x="677.3" y="362.7" font-size="7.8" fill="#e8e8e8" text-anchor="start" font-weight="normal" textLength="35" lengthAdjust="spacingAndGlyphs" stroke="#e8e8e8" stroke-width="0.3">118.450,00</text>
<line x1="673.5" y1="377.1" x2="675.7" y2="377.1" stroke="#c8c8c8" stroke-width="1"/>
<text x="677.3" y="380.3" font-size="7.8" fill="#e8e8e8" text-anchor="start" font-weight="normal" textLength="35" lengthAdjust="spacingAndGlyphs" stroke="#e8e8e8" stroke-width="0.3">115.950,00</text>
<line x1="673.5" y1="394.7" x2="675.7" y2="394.7" stroke="#c8c8c8" stroke-width="1"/>
<text x="677.3" y="397.9" font-size="7.8" fill="#e8e8e8" text-anchor="start" font-weight="normal" textLength="35" lengthAdjust="spacingAndGlyphs" stroke="#e8e8e8" stroke-width="0.3">113.450,00</text>
<line x1="673.5" y1="412.4" x2="675.7" y2="412.4" stroke="#c8c8c8" stroke-width="1"/>
<text x="677.3" y="415.6" font-size="7.8" fill="#e8e8e8" text-anchor="start" font-weight="normal" textLength="35" lengthAdjust="spacingAndGlyphs" stroke="#e8e8e8" stroke-width="0.3">110.950,00</text>
<line x1="673.5" y1="430.0" x2="675.7" y2="430.0" stroke="#c8c8c8" stroke-width="1"/>
<text x="677.3" y="433.2" font-size="7.8" fill="#e8e8e8" text-anchor="start" font-weight="normal" textLength="35" lengthAdjust="spacingAndGlyphs" stroke="#e8e8e8" stroke-width="0.3">108.450,00</text>
<line x1="673.5" y1="84.9" x2="676" y2="84.9" stroke="#d0d0d0" stroke-width="1"/>
<rect x="676" y="80" width="41.4" height="9.4" rx="1" fill="#000" stroke="#c8c8c8" stroke-width="1"/>
<text x="677.8" y="87.3" font-size="7.8" fill="#fff" text-anchor="start" font-weight="normal" textLength="34.2" lengthAdjust="spacingAndGlyphs" stroke="#fff" stroke-width="0.3">157.369,36</text>
<text x="345.4" y="7.3" font-size="8.2" fill="#e8e8e8" text-anchor="middle" font-weight="normal" textLength="123.5" lengthAdjust="spacingAndGlyphs" stroke="#e8e8e8" stroke-width="0.3">Índice Bovespa - Ibovespa, A Vista</text>
<path d="M3 2.5 L5.25 4.8 L7.5 2.5 L7.5 5.6 L5.25 8.5 L3 5.6 Z" fill="#1e9cff"/>
<line x1="0" y1="0.3" x2="720" y2="0.3" stroke="#4a4a3a" stroke-width="0.7" stroke-dasharray="1 1"/>
<rect x="0" y="10.6" width="0.8" height="539" fill="#181818"/>
<g><rect x="710.65" y="1.65" width="6.70" height="6.70" fill="#000" stroke="#00a8ff" stroke-width="1.3"/><rect x="714.40" y="0.80" width="3.9" height="3.6" fill="#000"/><path d="M713.60 5.60 L716.60 2.50" stroke="#00a8ff" stroke-width="1.2" fill="none"/><path d="M715.00 1.10 L717.90 1.10 L717.90 4.00 Z" fill="#00a8ff"/></g>
<text x="3" y="18.9" font-size="8.6" fill="#00c800" text-anchor="start" font-weight="normal" textLength="21.6" lengthAdjust="spacingAndGlyphs" stroke="#00c800" stroke-width="0.3">MMS3</text>
<text x="28.8" y="18.9" font-size="8.6" fill="#c8c800" text-anchor="start" font-weight="normal" textLength="22" lengthAdjust="spacingAndGlyphs" stroke="#c8c800" stroke-width="0.3">MMS8</text>
<text x="55" y="18.9" font-size="8.6" fill="#c80000" text-anchor="start" font-weight="normal" textLength="26.3" lengthAdjust="spacingAndGlyphs" stroke="#c80000" stroke-width="0.3">MMS20</text>
<text x="85.8" y="18.9" font-size="8.6" fill="#c80000" text-anchor="start" font-weight="normal" textLength="31.2" lengthAdjust="spacingAndGlyphs" stroke="#c80000" stroke-width="0.3">MMS200</text>
<text x="121.8" y="18.9" font-size="8.6" fill="#d8d8d8" text-anchor="start" font-weight="normal" textLength="35.2" lengthAdjust="spacingAndGlyphs" stroke="#d8d8d8" stroke-width="0.15">BB9±2,00</text>
<rect x="0" y="448.7" width="720" height="1.7" fill="#f0f0f0"/>
<rect x="0" y="450.4" width="720" height="10.5" fill="#050520"/>
<text x="2.7" y="458" font-size="8.6" fill="#f0f0f0" text-anchor="start" font-weight="normal" textLength="19.8" lengthAdjust="spacingAndGlyphs" stroke="#f0f0f0" stroke-width="0.3">IFR 9</text>
<line x1="0" y1="469.8" x2="673.5" y2="469.8" stroke="#5c5c5c" stroke-width="1" stroke-dasharray="2.5 2"/>
<line x1="673.5" y1="469.8" x2="676.5" y2="469.8" stroke="#c8c8c8" stroke-width="1"/>
<line x1="0" y1="496.5" x2="673.5" y2="496.5" stroke="#5c5c5c" stroke-width="1" stroke-dasharray="2.5 2"/>
<line x1="673.5" y1="496.5" x2="676.5" y2="496.5" stroke="#c8c8c8" stroke-width="1"/>
<text x="677.2" y="472.7" font-size="7.8" fill="#e8e8e8" text-anchor="start" font-weight="normal" textLength="17" lengthAdjust="spacingAndGlyphs" stroke="#e8e8e8" stroke-width="0.3">80,00</text>
<text x="677.2" y="499.4" font-size="7.8" fill="#e8e8e8" text-anchor="start" font-weight="normal" textLength="17" lengthAdjust="spacingAndGlyphs" stroke="#e8e8e8" stroke-width="0.3">20,00</text>
<polyline points="2.4,482.9 8.5,477.5 14.5,476.6 20.5,472.3 26.6,470.8 32.6,469.1 38.6,468.3 44.7,463.5 50.7,463.5 56.7,468.3 62.8,471.2 68.8,479.1 74.8,478.7 80.9,483.7 86.9,481.9 92.9,485.0 99.0,488.5 105.0,491.2 111.0,491.2 117.1,490.6 123.1,484.4 129.1,485.0 135.2,483.9 141.2,488.5 147.2,492.7 153.3,490.2 159.3,484.4 165.3,481.6 171.4,479.6 177.4,486.4 183.4,491.7 189.5,492.1 195.5,492.3 201.5,488.4 207.6,486.3 213.6,485.6 219.6,481.1 225.7,483.5 231.7,478.4 237.7,477.3 243.8,471.0 249.8,467.8 255.8,467.8 261.9,468.5 267.9,472.4 273.9,474.2 280.0,478.6 286.0,477.0 292.0,476.0 298.1,483.3 304.1,488.5 310.1,493.3 316.2,496.3 322.2,495.2 328.2,496.3 334.3,487.5 340.3,496.9 346.3,495.2 352.4,494.8 358.4,497.9 364.4,499.0 370.5,499.0 376.5,497.9 382.5,490.0 388.6,492.1 394.6,482.3 400.6,484.4 406.7,478.7 412.7,476.6 418.7,480.2 424.8,476.0 430.8,473.5 436.8,473.5 442.9,474.3 448.9,481.9 454.9,480.2 461.0,481.6 467.0,476.6 473.0,471.2 479.1,471.2 485.1,472.3 491.1,476.6 497.2,477.3 503.2,470.4 509.2,469.7 515.3,471.4 521.3,477.7 527.3,472.9 533.4,482.3 539.4,490.6 545.4,488.5 551.5,489.2 557.5,482.9 563.5,484.0 569.6,481.6 575.6,478.1 581.6,481.2 587.7,473.5 593.7,465.6 599.7,466.2 605.8,466.6 611.8,476.6 617.8,474.5 623.8,473.9 629.9,473.5 635.9,471.8 641.9,470.2 648.0,475.4 654.0,472.5 660.0,473.5" fill="none" stroke="#c8c8c8" stroke-width="1" />
<line x1="673.5" y1="473.3" x2="676" y2="473.3" stroke="#d0d0d0" stroke-width="1"/>
<rect x="676.3" y="468.7" width="23" height="9.2" rx="1" fill="#000" stroke="#d8d8d8" stroke-width="1"/>
<text x="677.6" y="476.2" font-size="7.8" fill="#fff" text-anchor="start" font-weight="normal" textLength="16.6" lengthAdjust="spacingAndGlyphs" stroke="#fff" stroke-width="0.3">72,28</text>
<g><rect x="710.65" y="452.55" width="6.70" height="6.70" fill="#000" stroke="#00a8ff" stroke-width="1.3"/><rect x="714.40" y="451.70" width="3.9" height="3.6" fill="#000"/><path d="M713.60 456.50 L716.60 453.40" stroke="#00a8ff" stroke-width="1.2" fill="none"/><path d="M715.00 452.00 L717.90 452.00 L717.90 454.90 Z" fill="#00a8ff"/></g>
<rect x="0" y="499.8" width="720" height="1.7" fill="#f0f0f0"/>
<rect x="0" y="501.4" width="720" height="10.6" fill="#050520"/>
<text x="2.9" y="509.2" font-size="8.6" fill="#00d000" text-anchor="start" font-weight="normal" textLength="20" lengthAdjust="spacingAndGlyphs" stroke="#00d000" stroke-width="0.3">VOL$</text>
<text x="30" y="509.2" font-size="8.6" fill="#a8a8cc" text-anchor="start" font-weight="normal" textLength="27.5" lengthAdjust="spacingAndGlyphs" stroke="#a8a8cc" stroke-width="0.3">MMS22</text>
<g><rect x="710.65" y="503.75" width="6.70" height="6.70" fill="#000" stroke="#00a8ff" stroke-width="1.3"/><rect x="714.40" y="502.90" width="3.9" height="3.6" fill="#000"/><path d="M713.60 507.70 L716.60 504.60" stroke="#00a8ff" stroke-width="1.2" fill="none"/><path d="M715.00 503.20 L717.90 503.20 L717.90 506.10 Z" fill="#00a8ff"/></g>
<rect x="0.05" y="533.8" width="4.8" height="15.80" fill="#00ff00"/>
<rect x="6.08" y="528.8" width="4.8" height="20.80" fill="#00ff00"/>
<rect x="12.12" y="526.1" width="4.8" height="23.50" fill="#00ff00"/>
<rect x="18.15" y="531.3" width="4.8" height="18.30" fill="#00ff00"/>
<rect x="24.18" y="528.8" width="4.8" height="20.80" fill="#00ff00"/>
<rect x="30.22" y="530.9" width="4.8" height="18.70" fill="#ff0000"/>
<rect x="36.25" y="521.3" width="4.8" height="28.30" fill="#00ff00"/>
<rect x="42.28" y="532.4" width="4.8" height="17.20" fill="#00ff00"/>
<rect x="48.31" y="541.8" width="4.8" height="7.80" fill="#00ff00"/>
<rect x="54.35" y="535.1" width="4.8" height="14.50" fill="#ff0000"/>
<rect x="60.38" y="533.0" width="4.8" height="16.60" fill="#ff0000"/>
<rect x="66.41" y="526.7" width="4.8" height="22.90" fill="#ff0000"/>
<rect x="72.45" y="532.4" width="4.8" height="17.20" fill="#00ff00"/>
<rect x="78.48" y="530.3" width="4.8" height="19.30" fill="#ff0000"/>
<rect x="84.51" y="527.2" width="4.8" height="22.40" fill="#00ff00"/>
<rect x="90.55" y="533.8" width="4.8" height="15.80" fill="#00ff00"/>
<rect x="96.58" y="531.3" width="4.8" height="18.30" fill="#00ff00"/>
<rect x="102.61" y="529.2" width="4.8" height="20.40" fill="#ff0000"/>
<rect x="108.64" y="530.3" width="4.8" height="19.30" fill="#ff0000"/>
<rect x="114.68" y="521.9" width="4.8" height="27.70" fill="#ff0000"/>
<rect x="120.71" y="531.3" width="4.8" height="18.30" fill="#00ff00"/>
<rect x="126.74" y="535.9" width="4.8" height="13.70" fill="#00ff00"/>
<rect x="132.78" y="530.9" width="4.8" height="18.70" fill="#ff0000"/>
<rect x="138.81" y="530.9" width="4.8" height="18.70" fill="#ff0000"/>
<rect x="144.84" y="519.9" width="4.8" height="29.70" fill="#ff0000"/>
<rect x="150.88" y="531.7" width="4.8" height="17.90" fill="#00ff00"/>
<rect x="156.91" y="533.4" width="4.8" height="16.20" fill="#00ff00"/>
<rect x="162.94" y="530.9" width="4.8" height="18.70" fill="#ff0000"/>
<rect x="168.97" y="525.1" width="4.8" height="24.50" fill="#00ff00"/>
<rect x="175.01" y="531.3" width="4.8" height="18.30" fill="#ff0000"/>
<rect x="181.04" y="534.9" width="4.8" height="14.70" fill="#ff0000"/>
<rect x="187.07" y="531.3" width="4.8" height="18.30" fill="#ff0000"/>
<rect x="193.11" y="526.7" width="4.8" height="22.90" fill="#ff0000"/>
<rect x="199.14" y="527.2" width="4.8" height="22.40" fill="#00ff00"/>
<rect x="205.17" y="533.0" width="4.8" height="16.60" fill="#00ff00"/>
<rect x="211.21" y="532.0" width="4.8" height="17.60" fill="#00ff00"/>
<rect x="217.24" y="533.4" width="4.8" height="16.20" fill="#00ff00"/>
<rect x="223.27" y="527.2" width="4.8" height="22.40" fill="#ff0000"/>
<rect x="229.30" y="533.0" width="4.8" height="16.60" fill="#ff0000"/>
<rect x="235.34" y="530.3" width="4.8" height="19.30" fill="#ff0000"/>
<rect x="241.37" y="529.2" width="4.8" height="20.40" fill="#00ff00"/>
<rect x="247.40" y="516.1" width="4.8" height="33.50" fill="#00ff00"/>
<rect x="253.44" y="529.9" width="4.8" height="19.70" fill="#00ff00"/>
<rect x="259.47" y="527.2" width="4.8" height="22.40" fill="#00ff00"/>
<rect x="265.50" y="532.4" width="4.8" height="17.20" fill="#ff0000"/>
<rect x="271.54" y="533.4" width="4.8" height="16.20" fill="#00ff00"/>
<rect x="277.57" y="524.0" width="4.8" height="25.60" fill="#ff0000"/>
<rect x="283.60" y="529.9" width="4.8" height="19.70" fill="#00ff00"/>
<rect x="289.63" y="530.9" width="4.8" height="18.70" fill="#ff0000"/>
<rect x="295.67" y="532.4" width="4.8" height="17.20" fill="#ff0000"/>
<rect x="301.70" y="523.4" width="4.8" height="26.20" fill="#00ff00"/>
<rect x="307.73" y="533.4" width="4.8" height="16.20" fill="#ff0000"/>
<rect x="313.77" y="533.4" width="4.8" height="16.20" fill="#ff0000"/>
<rect x="319.80" y="528.8" width="4.8" height="20.80" fill="#ff0000"/>
<rect x="325.83" y="527.2" width="4.8" height="22.40" fill="#ff0000"/>
<rect x="331.87" y="533.8" width="4.8" height="15.80" fill="#00ff00"/>
<rect x="337.90" y="525.1" width="4.8" height="24.50" fill="#ff0000"/>
<rect x="343.93" y="529.7" width="4.8" height="19.90" fill="#00ff00"/>
<rect x="349.96" y="529.2" width="4.8" height="20.40" fill="#ff0000"/>
<rect x="356.00" y="514.0" width="4.8" height="35.60" fill="#ff0000"/>
<rect x="362.03" y="540.1" width="4.8" height="9.50" fill="#ff0000"/>
<rect x="368.06" y="539.3" width="4.8" height="10.30" fill="#ff0000"/>
<rect x="374.10" y="533.4" width="4.8" height="16.20" fill="#00ff00"/>
<rect x="380.13" y="518.8" width="4.8" height="30.80" fill="#00ff00"/>
<rect x="386.16" y="535.1" width="4.8" height="14.50" fill="#00ff00"/>
<rect x="392.20" y="531.3" width="4.8" height="18.30" fill="#00ff00"/>
<rect x="398.23" y="532.0" width="4.8" height="17.60" fill="#ff0000"/>
<rect x="404.26" y="525.1" width="4.8" height="24.50" fill="#00ff00"/>
<rect x="410.29" y="527.2" width="4.8" height="22.40" fill="#ff0000"/>
<rect x="416.33" y="526.7" width="4.8" height="22.90" fill="#ff0000"/>
<rect x="422.36" y="538.6" width="4.8" height="11.00" fill="#00ff00"/>
<rect x="428.39" y="527.2" width="4.8" height="22.40" fill="#00ff00"/>
<rect x="434.43" y="523.4" width="4.8" height="26.20" fill="#00ff00"/>
<rect x="440.46" y="532.0" width="4.8" height="17.60" fill="#ff0000"/>
<rect x="446.49" y="529.2" width="4.8" height="20.40" fill="#ff0000"/>
<rect x="452.53" y="524.0" width="4.8" height="25.60" fill="#00ff00"/>
<rect x="458.56" y="526.1" width="4.8" height="23.50" fill="#00ff00"/>
<rect x="464.59" y="533.0" width="4.8" height="16.60" fill="#00ff00"/>
<rect x="470.62" y="533.0" width="4.8" height="16.60" fill="#00ff00"/>
<rect x="476.66" y="526.7" width="4.8" height="22.90" fill="#00ff00"/>
<rect x="482.69" y="518.8" width="4.8" height="30.80" fill="#00ff00"/>
<rect x="488.72" y="530.3" width="4.8" height="19.30" fill="#ff0000"/>
<rect x="494.76" y="531.3" width="4.8" height="18.30" fill="#ff0000"/>
<rect x="500.79" y="530.3" width="4.8" height="19.30" fill="#ff0000"/>
<rect x="506.82" y="531.3" width="4.8" height="18.30" fill="#00ff00"/>
<rect x="512.86" y="525.1" width="4.8" height="24.50" fill="#ff0000"/>
<rect x="518.89" y="532.0" width="4.8" height="17.60" fill="#ff0000"/>
<rect x="524.92" y="534.0" width="4.8" height="15.60" fill="#00ff00"/>
<rect x="530.95" y="531.3" width="4.8" height="18.30" fill="#ff0000"/>
<rect x="536.99" y="526.1" width="4.8" height="23.50" fill="#ff0000"/>
<rect x="543.02" y="534.9" width="4.8" height="14.70" fill="#00ff00"/>
<rect x="549.05" y="532.0" width="4.8" height="17.60" fill="#ff0000"/>
<rect x="555.09" y="530.7" width="4.8" height="18.90" fill="#00ff00"/>
<rect x="561.12" y="523.0" width="4.8" height="26.60" fill="#00ff00"/>
<rect x="567.15" y="532.0" width="4.8" height="17.60" fill="#00ff00"/>
<rect x="573.18" y="532.0" width="4.8" height="17.60" fill="#00ff00"/>
<rect x="579.22" y="533.4" width="4.8" height="16.20" fill="#00ff00"/>
<rect x="585.25" y="532.8" width="4.8" height="16.80" fill="#ff0000"/>
<rect x="591.28" y="521.3" width="4.8" height="28.30" fill="#00ff00"/>
<rect x="597.32" y="533.0" width="4.8" height="16.60" fill="#ff0000"/>
<rect x="603.35" y="532.4" width="4.8" height="17.20" fill="#ff0000"/>
<rect x="609.38" y="531.3" width="4.8" height="18.30" fill="#ff0000"/>
<rect x="615.42" y="523.4" width="4.8" height="26.20" fill="#00ff00"/>
<rect x="621.45" y="534.0" width="4.8" height="15.60" fill="#00ff00"/>
<rect x="627.48" y="530.9" width="4.8" height="18.70" fill="#00ff00"/>
<rect x="633.51" y="528.2" width="4.8" height="21.40" fill="#00ff00"/>
<rect x="639.55" y="521.3" width="4.8" height="28.30" fill="#00ff00"/>
<rect x="645.58" y="531.3" width="4.8" height="18.30" fill="#ff0000"/>
<rect x="651.61" y="530.3" width="4.8" height="19.30" fill="#00ff00"/>
<rect x="657.65" y="523.4" width="4.8" height="26.20" fill="#ff0000"/>
<polyline points="2.4,530.0 8.5,529.9 14.5,529.8 20.5,529.8 26.6,529.8 32.6,529.8 38.6,529.5 44.7,529.6 50.7,530.1 56.7,530.4 62.8,530.5 68.8,530.4 74.8,530.5 80.9,530.5 86.9,530.4 92.9,530.6 99.0,530.6 105.0,530.6 111.0,530.6 117.1,530.3 123.1,530.3 129.1,530.6 135.2,530.5 141.2,530.6 147.2,530.3 153.3,530.3 159.3,530.5 165.3,530.5 171.4,530.7 177.4,530.6 183.4,530.3 189.5,530.2 195.5,529.9 201.5,529.9 207.6,529.9 213.6,530.0 219.6,530.3 225.7,530.0 231.7,530.1 237.7,530.1 243.8,530.1 249.8,529.8 255.8,529.7 261.9,529.3 267.9,529.4 273.9,529.5 280.0,529.7 286.0,529.6 292.0,529.5 298.1,529.6 304.1,529.5 310.1,529.6 316.2,529.5 322.2,529.4 328.2,529.4 334.3,529.7 340.3,529.4 346.3,529.3 352.4,529.1 358.4,528.5 364.4,528.8 370.5,529.2 376.5,529.4 382.5,529.5 388.6,529.8 394.6,530.0 400.6,529.9 406.7,529.6 412.7,529.7 418.7,529.6 424.8,529.9 430.8,529.7 436.8,529.7 442.9,529.6 448.9,529.4 454.9,529.2 461.0,529.1 467.0,529.1 473.0,529.5 479.1,529.3 485.1,528.9 491.1,529.6 497.2,529.2 503.2,528.8 509.2,528.7 515.3,529.0 521.3,528.8 527.3,529.0 533.4,528.9 539.4,529.0 545.4,529.3 551.5,529.6 557.5,529.2 563.5,529.0 569.6,529.4 575.6,529.4 581.6,529.6 587.7,530.0 593.7,529.8 599.7,529.8 605.8,529.8 611.8,530.0 617.8,530.2 623.8,530.3 629.9,530.3 635.9,530.2 641.9,529.8 648.0,530.1 654.0,530.0 660.0,529.5" fill="none" stroke="#8686a8" stroke-width="0.8" />
<line x1="0" y1="549.9" x2="673.5" y2="549.9" stroke="#9a9a9a" stroke-width="1"/>
<line x1="673.5" y1="529.7" x2="676.5" y2="529.7" stroke="#c8c8c8" stroke-width="1"/>
<text x="677.6" y="532.3" font-size="7.8" fill="#e8e8e8" text-anchor="start" font-weight="normal" textLength="15" lengthAdjust="spacingAndGlyphs" stroke="#e8e8e8" stroke-width="0.3">120B</text>
<line x1="673.5" y1="523.4" x2="676" y2="523.4" stroke="#d0d0d0" stroke-width="1"/>
<rect x="676.3" y="518.8" width="22" height="9.3" rx="1" fill="#000" stroke="#b0b0c8" stroke-width="1"/>
<text x="677.6" y="526.4" font-size="7.8" fill="#00e000" text-anchor="start" font-weight="normal" textLength="15" lengthAdjust="spacingAndGlyphs" stroke="#00e000" stroke-width="0.3">149B</text>
<line x1="62.2" y1="549.6" x2="62.2" y2="552" stroke="#e0e0e0" stroke-width="1"/>
<text x="62.2" y="560.7" font-size="8" fill="#e8e8e8" text-anchor="middle" font-weight="normal" textLength="27" lengthAdjust="spacingAndGlyphs" stroke="#e8e8e8" stroke-width="0.3">jan 2024</text>
<line x1="140.5" y1="549.6" x2="140.5" y2="552" stroke="#e0e0e0" stroke-width="1"/>
<text x="140.5" y="560.7" font-size="8" fill="#e8e8e8" text-anchor="middle" font-weight="normal" textLength="27" lengthAdjust="spacingAndGlyphs" stroke="#e8e8e8" stroke-width="0.3">abr 2024</text>
<line x1="218.6" y1="549.6" x2="218.6" y2="552" stroke="#e0e0e0" stroke-width="1"/>
<text x="218.6" y="560.7" font-size="8" fill="#e8e8e8" text-anchor="middle" font-weight="normal" textLength="27" lengthAdjust="spacingAndGlyphs" stroke="#e8e8e8" stroke-width="0.3">jul 2024</text>
<line x1="297.7" y1="549.6" x2="297.7" y2="552" stroke="#e0e0e0" stroke-width="1"/>
<text x="297.7" y="560.7" font-size="8" fill="#e8e8e8" text-anchor="middle" font-weight="normal" textLength="27" lengthAdjust="spacingAndGlyphs" stroke="#e8e8e8" stroke-width="0.3">out 2024</text>
<line x1="376.5" y1="549.6" x2="376.5" y2="552" stroke="#e0e0e0" stroke-width="1"/>
<text x="376.5" y="560.7" font-size="8" fill="#e8e8e8" text-anchor="middle" font-weight="normal" textLength="27" lengthAdjust="spacingAndGlyphs" stroke="#e8e8e8" stroke-width="0.3">jan 2025</text>
<line x1="454.9" y1="549.6" x2="454.9" y2="552" stroke="#e0e0e0" stroke-width="1"/>
<text x="454.9" y="560.7" font-size="8" fill="#e8e8e8" text-anchor="middle" font-weight="normal" textLength="27" lengthAdjust="spacingAndGlyphs" stroke="#e8e8e8" stroke-width="0.3">abr 2025</text>
<line x1="533.4" y1="549.6" x2="533.4" y2="552" stroke="#e0e0e0" stroke-width="1"/>
<text x="533.4" y="560.7" font-size="8" fill="#e8e8e8" text-anchor="middle" font-weight="normal" textLength="27" lengthAdjust="spacingAndGlyphs" stroke="#e8e8e8" stroke-width="0.3">jul 2025</text>
<line x1="611.6" y1="549.6" x2="611.6" y2="552" stroke="#e0e0e0" stroke-width="1"/>
<text x="611.6" y="560.7" font-size="8" fill="#e8e8e8" text-anchor="middle" font-weight="normal" textLength="27" lengthAdjust="spacingAndGlyphs" stroke="#e8e8e8" stroke-width="0.3">out 2025</text>
<text x="3" y="572.8" font-size="8.6" fill="#303030" text-anchor="start" font-weight="normal" textLength="164" lengthAdjust="spacingAndGlyphs" stroke="#303030" stroke-width="0.3">IBOV - Semanal - criado em 08/12/2025</text>
<text x="716.9" y="572.8" font-size="8.6" fill="#303030" text-anchor="end" font-weight="normal" textLength="73.5" lengthAdjust="spacingAndGlyphs" stroke="#303030" stroke-width="0.3">© 2025 Broadcast</text>
</svg>
</body></html>
